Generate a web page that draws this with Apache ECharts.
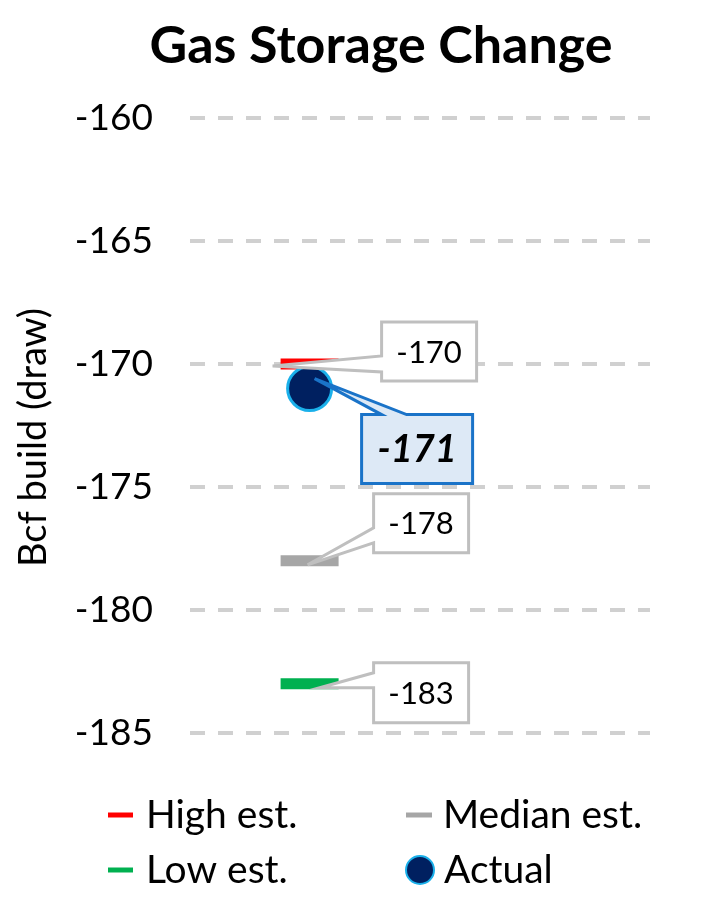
<!DOCTYPE html>
<html><head><meta charset="utf-8">
<script src="https://cdn.jsdelivr.net/npm/echarts@6/dist/echarts.min.js"></script>
<style>html,body{margin:0;padding:0;background:#fff}#c{width:705px;height:900px}</style>
</head><body><div id="c"></div>
<script>
// ---- data ----
const chartTitle = 'Gas Storage Change';
const yAxisName = 'Bcf build (draw)';
const yMin = -185, yMax = -160, yStep = 5;
const estimateNames = ['High est.', 'Median est.', 'Low est.'];
const estimateValues = [-170, -178, -183];
const actualName = 'Actual';
const actualValue = -171;

// ---- layout / style ----
const FONT = 'Lato';
const X_POS = 26; // horizontal slot of the markers on hidden 0..100 axis
const estimateColors = ['#ff0000', '#a6a6a6', '#00b050'];
// callout geometry relative to the data point (px)
const calloutCfg = [
  { dx: 72, dy: -42, w: 95, h: 59, side: 'left', b1: 34, b2: 50, tx: -37, ty: 2 },   // -170
  { dx: 64, dy: -67, w: 95, h: 59, side: 'left', b1: 34, b2: 49, tx: -2, ty: 4 },    // -178
  { dx: 64, dy: -21, w: 95, h: 60, side: 'left', b1: 10, b2: 25, tx: 10, ty: 4 },    // -183
  { dx: 52, dy: 26, w: 111, h: 69, side: 'top', b1: 20, b2: 45, tx: 5, ty: -10, actual: true } // -171
];
const calloutValues = estimateValues.concat([actualValue]);

const chart = echarts.init(document.getElementById('c'), null, { renderer: 'canvas' });

function renderCallout(params, api) {
  const i = params.dataIndex;
  const c = calloutCfg[i];
  const p = api.coord([api.value(0), api.value(1)]);
  const x0 = p[0] + c.dx, y0 = p[1] + c.dy, x1 = x0 + c.w, y1 = y0 + c.h;
  const tip = [p[0] + c.tx, p[1] + c.ty];
  let pts;
  if (c.side === 'left') {
    pts = [[x0, y0], [x1, y0], [x1, y1], [x0, y1], [x0, y0 + c.b2], tip, [x0, y0 + c.b1]];
  } else {
    pts = [[x0, y0], [x0 + c.b1, y0], tip, [x0 + c.b2, y0], [x1, y0], [x1, y1], [x0, y1]];
  }
  const v = api.value(1);
  return {
    type: 'group',
    children: [
      {
        type: 'polygon',
        shape: { points: pts },
        style: {
          fill: c.actual ? '#dde9f6' : '#ffffff',
          stroke: c.actual ? '#1a73c8' : '#bfbfbf',
          lineWidth: 3,
          lineJoin: 'miter'
        }
      },
      {
        type: 'text',
        style: {
          x: (x0 + x1) / 2,
          y: (y0 + y1) / 2 + 1,
          text: String(v),
          align: 'center',
          verticalAlign: 'middle',
          fill: '#000',
          font: (c.actual ? 'italic bold 38px ' : '31px ') + FONT
        }
      }
    ]
  };
}

const estSeries = estimateNames.map((n, i) => ({
  name: n,
  type: 'scatter',
  symbol: 'rect',
  symbolSize: [58, 11],
  itemStyle: { color: estimateColors[i], opacity: 1 },
  data: [[X_POS, estimateValues[i]]],
  z: 2,
  silent: true
}));

function legendAt(name, icon, left, top, iw, ih, pad) {
  return {
    data: [{ name: name, icon: icon }],
    left: left, top: top,
    padding: 0,
    itemWidth: iw, itemHeight: ih,
    selectedMode: false,
    textStyle: { fontFamily: FONT, fontSize: 39, color: '#000', lineHeight: 44, padding: [0, 0, 0, pad] }
  };
}

const option = {
  animation: false,
  backgroundColor: '#fff',
  title: {
    text: chartTitle,
    left: 381,
    textAlign: 'center',
    top: 20,
    padding: 0,
    textStyle: { fontFamily: FONT, fontWeight: 'bold', fontSize: 52, color: '#000' }
  },
  grid: { left: 190, right: 55, top: 118, bottom: 167 },
  xAxis: { type: 'value', min: 0, max: 100, show: false },
  yAxis: {
    type: 'value',
    min: yMin, max: yMax, interval: yStep,
    name: yAxisName,
    nameLocation: 'middle',
    nameRotate: 90,
    nameGap: 137,
    nameTextStyle: { fontFamily: FONT, fontSize: 38, color: '#000', padding: [0, 24, 0, 0] },
    axisLine: { show: false },
    axisTick: { show: false },
    axisLabel: { fontFamily: FONT, fontSize: 37, color: '#000', margin: 37 },
    splitLine: { lineStyle: { color: '#d0d0d0', width: 4, type: [15, 13] } }
  },
  legend: [
    legendAt('High est.', 'rect', 108, 793, 25, 5, 8),
    legendAt('Median est.', 'rect', 406, 793, 26, 5, 6),
    legendAt('Low est.', 'rect', 108, 848, 25, 5, 8),
    legendAt('Actual', 'circle', 405, 848, 28, 28, 5)
  ],
  series: estSeries.concat([
    {
      name: actualName,
      type: 'scatter',
      symbol: 'circle',
      symbolSize: 44,
      itemStyle: { color: '#002060', borderColor: '#1ab0ea', borderWidth: 3, opacity: 1 },
      data: [[X_POS, actualValue]],
      z: 3,
      silent: true
    },
    {
      name: 'callouts',
      type: 'custom',
      renderItem: renderCallout,
      clip: false,
      z: 5,
      silent: true,
      data: calloutValues.map(v => [X_POS, v])
    }
  ])
};
chart.setOption(option);
</script>
</body></html>
